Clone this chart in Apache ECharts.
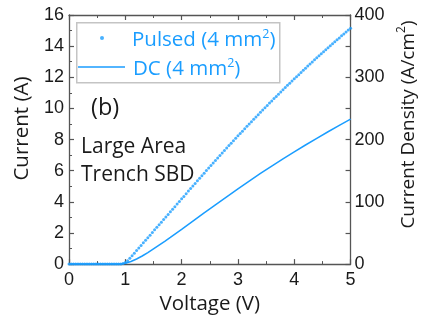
<!DOCTYPE html>
<html>
<head>
<meta charset="utf-8">
<script src="https://cdn.jsdelivr.net/npm/echarts@6/dist/echarts.min.js"></script>
<style>html,body{margin:0;padding:0;background:#fff}#c{width:426px;height:320px}</style>
</head>
<body>
<div id="c"></div>
<script>
// ---- data ----
const pulsedV = [
0,0.04,0.08,0.12,0.16,0.2,0.24,0.28,0.32,0.36,0.4,0.44,0.48,0.52,0.56,0.6,0.64,0.68,0.72,0.76,0.8,0.84,0.88,
0.92,0.96,1.0,1.04,1.08,1.12,1.16,1.2,1.24,1.28,1.32,1.36,1.4,1.44,1.48,1.52,1.56,1.6,1.64,1.68,1.72,1.76,1.8,
1.84,1.88,1.92,1.96,2.0,2.04,2.08,2.12,2.16,2.2,2.24,2.28,2.32,2.36,2.4,2.44,2.48,2.52,2.56,2.6,2.64,2.68,2.72,
2.76,2.8,2.84,2.88,2.92,2.96,3.0,3.04,3.08,3.12,3.16,3.2,3.24,3.28,3.32,3.36,3.4,3.44,3.48,3.52,3.56,3.6,3.64,
3.68,3.72,3.76,3.8,3.84,3.88,3.92,3.96,4.0,4.04,4.08,4.12,4.16,4.2,4.24,4.28,4.32,4.36,4.4,4.44,4.48,4.52,4.56,
4.6,4.64,4.68,4.72,4.76,4.8,4.84,4.88,4.92,4.96,5.0];
const pulsedI = [
0,0,0,0,0,0,0,0,0,0,0,0,0,0,0,0,0,0,0,0,0,0,0,
0.01,0.04,0.11,0.22,0.37,0.54,0.70,0.87,1.03,1.20,1.37,1.53,1.70,1.86,2.03,2.20,2.36,2.53,2.69,2.86,3.03,3.19,3.36,
3.52,3.69,3.86,4.02,4.19,4.35,4.52,4.69,4.85,5.02,5.18,5.35,5.51,5.68,5.84,6.01,6.17,6.33,6.50,6.66,6.82,6.98,7.14,
7.30,7.45,7.61,7.77,7.92,8.08,8.24,8.39,8.54,8.70,8.85,9.00,9.15,9.30,9.45,9.60,9.75,9.90,10.04,10.19,10.34,10.48,10.63,
10.77,10.91,11.06,11.20,11.34,11.48,11.62,11.76,11.90,12.03,12.17,12.31,12.45,12.58,12.72,12.85,12.98,13.12,13.25,13.38,13.51,13.64,13.77,
13.90,14.03,14.15,14.28,14.41,14.53,14.66,14.78,14.91,15.03,15.15];
const dcV = [0,0.5,0.8,0.9,1.0,1.1,1.2,1.3,1.4,1.5,1.6,1.7,1.8,2.0,2.2,2.4,2.6,2.8,3.0,3.2,3.4,3.6,3.8,4.0,4.2,4.4,4.6,4.8,5.0];
const dcI = [0,0,0,0.01,0.05,0.17,0.33,0.52,0.74,0.98,1.22,1.46,1.71,2.23,2.76,3.29,3.81,4.32,4.83,5.33,5.82,6.30,6.76,7.21,7.65,8.08,8.50,8.91,9.31];
const seriesNames = ['Pulsed (4 mm2)', 'DC (4 mm2)'];
const xTicks = [0,1,2,3,4,5];
const yTicks = [0,2,4,6,8,10,12,14,16];
const densityTicks = [0,100,200,300,400];

const BLUE = '#1a9dff';
const AX = '#555555';
const TXT = '#1a1a1a';
const TICKF = 'Liberation Sans';
const TXTF = 'Open Sans';

const chart = echarts.init(document.getElementById('c'), null, {renderer:'canvas'});
const zip = (a,b) => a.map((v,i)=>[v,b[i]]);
const axisBase = {
  axisLine:{show:true, onZero:false, lineStyle:{color:AX, width:1.3}},
  axisTick:{show:true, inside:true, length:5, lineStyle:{color:AX, width:1.2}},
  minorTick:{show:true, splitNumber:2, length:3, lineStyle:{color:AX, width:1}},
  splitLine:{show:false}
};
const legendRich = {
  a:{fontFamily:TXTF, fontSize:20.5, color:BLUE, lineHeight:26, verticalAlign:'bottom'},
  s:{fontFamily:TXTF, fontSize:12.5, color:BLUE, lineHeight:26, verticalAlign:'top', padding:[3,0,0,0]}
};
const legendFmt = n => { const m = n.match(/^(.*mm)2\)$/); return m ? '{a|'+m[1]+'}{s|2}{a|)}' : '{a|'+n+'}'; };

chart.setOption({
  animation:false,
  backgroundColor:'#fff',
  grid:{left:69, right:75, top:15, bottom:54},
  xAxis:[
    Object.assign({}, axisBase, {type:'value', min:xTicks[0], max:xTicks[xTicks.length-1], interval:1, position:'bottom',
      name:'Voltage (V)', nameLocation:'middle', nameGap:25,
      nameTextStyle:{fontFamily:TXTF, fontSize:20.5, color:TXT},
      axisLabel:{fontFamily:TICKF, fontSize:18, color:TXT, margin:7}}),
    Object.assign({}, axisBase, {type:'value', min:0, max:5, interval:1, position:'top', axisLabel:{show:false}})
  ],
  yAxis:[
    Object.assign({}, axisBase, {type:'value', min:yTicks[0], max:yTicks[yTicks.length-1], interval:2, position:'left',
      name:'Current (A)', nameLocation:'middle', nameGap:32, nameRotate:90,
      nameTextStyle:{fontFamily:TXTF, fontSize:20.5, color:TXT, padding:[0,0,0,22]},
      axisLabel:{fontFamily:TICKF, fontSize:18, color:TXT, margin:5}}),
    Object.assign({}, axisBase, {type:'value', min:densityTicks[0], max:densityTicks[densityTicks.length-1], interval:100, position:'right',
      name:'Current Density (A/cm{s|2})', nameLocation:'middle', nameGap:43, nameRotate:90,
      nameTextStyle:{fontFamily:TXTF, fontSize:19, color:TXT, padding:[0,0,0,30],
        rich:{s:{fontFamily:TXTF, fontSize:12, color:TXT, verticalAlign:'top', lineHeight:26}}},
      axisLabel:{fontFamily:TICKF, fontSize:18, color:TXT, margin:4},
      minorTick:{show:true, splitNumber:2, length:5, lineStyle:{color:AX, width:1.2}}})
  ],
  legend:[
    {data:[seriesNames[0]], icon:'circle', itemWidth:4, itemHeight:4, left:100, top:25, padding:0,
     formatter:legendFmt, textStyle:{rich:legendRich, padding:[0,0,0,23]}},
    {data:[seriesNames[1]], icon:'rect', itemWidth:47, itemHeight:1.5, left:78, top:54, padding:0,
     formatter:legendFmt, textStyle:{rich:legendRich, padding:[0,0,0,3]}}
  ],
  graphic:[
    {type:'rect', left:76, top:22, z:-1, shape:{width:203, height:60}, style:{fill:'#fff', stroke:'#c4c4c4', lineWidth:1.5}},
    {type:'text', left:91, top:96, style:{text:'(b)', fontFamily:TXTF, fontSize:23.5, fill:TXT}},
    {type:'text', left:81, top:137, style:{text:'Large Area', fontFamily:TXTF, fontSize:21, fill:TXT}},
    {type:'text', left:81, top:165, style:{text:'Trench SBD', fontFamily:TXTF, fontSize:21, fill:TXT}}
  ],
  series:[
    {name:seriesNames[0], type:'scatter', xAxisIndex:0, yAxisIndex:0, symbol:'circle', symbolSize:3,
     itemStyle:{color:BLUE}, data:zip(pulsedV, pulsedI), z:3},
    {name:seriesNames[1], type:'line', xAxisIndex:0, yAxisIndex:0, showSymbol:false, symbol:'none',
     lineStyle:{color:BLUE, width:1.5}, itemStyle:{color:BLUE}, data:zip(dcV, dcI), z:2}
  ]
});
</script>
</body>
</html>
